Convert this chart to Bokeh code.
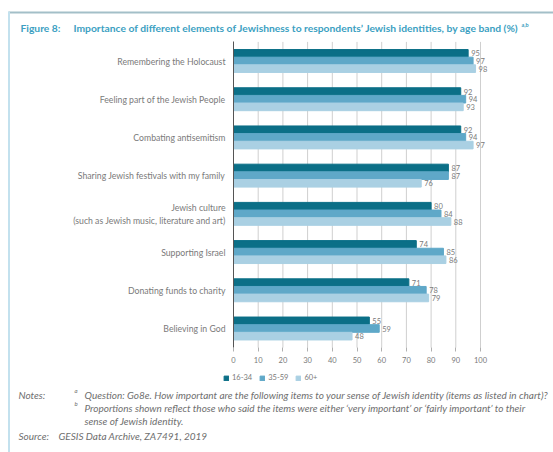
from bokeh.plotting import figure
from bokeh.models import (ColumnDataSource, Label, Legend, LegendItem,
                          FixedTicker, Range1d, LinearAxis)
from bokeh.transform import dodge
from bokeh.core.properties import value
from bokeh.embed import file_html
from bokeh.resources import INLINE

# ---------------- data ----------------
categories = [
    "Remembering the Holocaust",
    "Feeling part of the Jewish People",
    "Combating antisemitism",
    "Sharing Jewish festivals with my family",
    "Jewish culture\n(such as Jewish music, literature and art)",
    "Supporting Israel",
    "Donating funds to charity",
    "Believing in God",
]
age_bands = ["16-34", "35-59", "60+"]
v_16_34 = [95, 92, 92, 87, 80, 74, 71, 55]
v_35_59 = [97, 94, 94, 87, 84, 85, 78, 59]
v_60_plus = [98, 93, 97, 76, 88, 86, 79, 48]
x_ticks = [0, 10, 20, 30, 40, 50, 60, 70, 80, 90, 100]

title_prefix = "Figure 8:"
title_text = "Importance of different elements of Jewishness to respondents’ Jewish identities, by age band (%)"
note_a = "Question: Go8e. How important are the following items to your sense of Jewish identity (items as listed in chart)?"
note_b1 = "Proportions shown reflect those who said the items were either ‘very important’ or ‘fairly important’ to their"
note_b2 = "sense of Jewish identity."
source_text = "GESIS Data Archive, ZA7491, 2019"

# ---------------- style ----------------
colors = ["#0b6f87", "#5fa8c8", "#aad0e3"]
FONT = "Lato"
GREY = "#6e6e6e"
LGREY = "#7a7a7a"
TITLE_C = "#3c9fc2"

W, H = 553, 452
# layout geometry (pixels on the canvas)
X0_PX, X100_PX = 233, 480            # where 0 and 100 sit
TOP_ROW_PX, BOTTOM_ROW_PX = 60.5, 328  # centres of first and last rows

n = len(categories)
ypos = [n - 1 - i for i in range(n)]   # one row per category, first at top

xs = (X100_PX - X0_PX) / 100.0
ys = (BOTTOM_ROW_PX - TOP_ROW_PX) / (n - 1)
x_start, x_end = -X0_PX / xs, (W - X0_PX) / xs
y_end = BOTTOM_ROW_PX / ys
y_start = -(H - BOTTOM_ROW_PX) / ys


def px2x(px):
    return (px - X0_PX) / xs


def py2y(py):
    return (BOTTOM_ROW_PX - py) / ys


src = ColumnDataSource(dict(y=ypos, a=v_16_34, b=v_35_59, c=v_60_plus,
                            ta=[str(v) for v in v_16_34],
                            tb=[str(v) for v in v_35_59],
                            tc=[str(v) for v in v_60_plus]))

p = figure(width=W, height=H, x_range=Range1d(x_start, x_end),
           y_range=Range1d(y_start, y_end), x_axis_type=None, y_axis_type=None,
           output_backend="svg", toolbar_location=None,
           min_border=0, min_border_left=0, min_border_right=0,
           min_border_top=0, min_border_bottom=0)
p.outline_line_color = None
p.background_fill_color = "white"
p.border_fill_color = "white"
p.xgrid.visible = False
p.ygrid.visible = False

lo, hi = -0.5, n - 0.5

# decorative frame lines of the report box
p.quad(left=px2x(8), right=px2x(553), top=py2y(11), bottom=py2y(13),
       color="#a3bfc8", line_width=0)
p.quad(left=px2x(7.5), right=px2x(9.5), top=py2y(11), bottom=py2y(452),
       color="#c3e1ee", line_width=0)

# vertical grid lines at the ticks
grid_x = x_ticks[1:]
p.segment(x0=grid_x, x1=grid_x, y0=[lo] * len(grid_x), y1=[hi] * len(grid_x),
          line_color="#cfcfcf", line_width=1)

bh = 0.2
r1 = p.hbar(y=dodge("y", 0.2), right="a", left=0, height=bh, color=colors[0], source=src)
r2 = p.hbar(y=dodge("y", 0.0), right="b", left=0, height=bh, color=colors[1], source=src)
r3 = p.hbar(y=dodge("y", -0.2), right="c", left=0, height=bh, color=colors[2], source=src)

for col, tcol, d in (("a", "ta", 0.2), ("b", "tb", 0.0), ("c", "tc", -0.2)):
    p.text(x=col, y=dodge("y", d), text=tcol, source=src,
           x_offset=3, text_baseline="middle", text_align="left",
           text_font=value(FONT), text_font_size="7.5px", text_color=LGREY)

# x axis drawn at the bottom of the chart area
xaxis = LinearAxis(fixed_location=lo, ticker=FixedTicker(ticks=x_ticks))
xaxis.axis_line_color = None
xaxis.major_tick_in = 0
xaxis.major_tick_out = 4
xaxis.major_tick_line_color = "#b0b0b0"
xaxis.minor_tick_line_color = None
xaxis.major_label_text_font = FONT
xaxis.major_label_text_font_size = "7.5px"
xaxis.major_label_text_color = LGREY
xaxis.major_label_standoff = 5
p.add_layout(xaxis, "below")

# category axis at x = 0
yaxis = LinearAxis(fixed_location=0, ticker=FixedTicker(ticks=ypos), bounds=(lo, hi),
                   major_label_overrides={y: c for y, c in zip(ypos, categories)})
yaxis.axis_line_color = "#555555"
yaxis.major_tick_line_color = None
yaxis.minor_tick_line_color = None
yaxis.major_label_text_font = FONT
yaxis.major_label_text_font_size = "8.7px"
yaxis.major_label_text_color = LGREY
yaxis.major_label_standoff = 2
p.add_layout(yaxis, "left")

# legend below the axis
legend = Legend(items=[LegendItem(label=age_bands[i], renderers=[r]) for i, r in enumerate([r1, r2, r3])],
                orientation="horizontal", location=(223, H - 382),
                glyph_width=6, glyph_height=6, label_height=8, label_standoff=3,
                spacing=7, padding=0, margin=0, border_line_color=None,
                background_fill_alpha=0,
                label_text_font=FONT, label_text_font_size="7.5px", label_text_color=LGREY)
p.add_layout(legend)


def lab(text, px, py, size="10px", color=GREY, style="italic"):
    p.add_layout(Label(x=px, y=H - py, x_units="screen", y_units="screen",
                       text=text, text_font=FONT, text_font_size=size,
                       text_color=color, text_baseline="middle", text_align="left",
                       text_font_style=style))


lab(title_prefix, 20, 27, size="10.3px", color=TITLE_C, style="bold")
lab(title_text, 73, 27, size="10.3px", color=TITLE_C, style="bold")
lab("a,b", 521, 24, size="5.5px", color=TITLE_C, style="bold")

lab("Notes:", 18, 394)
lab("a", 74, 390, size="6px")
lab(note_a, 84, 394)
lab("b", 74, 403, size="6px")
lab(note_b1, 84, 407)
lab(note_b2, 84, 420)
lab("Source:", 18, 435)
lab(source_text, 58, 435)

open("out.html", "w").write(file_html(p, INLINE))
